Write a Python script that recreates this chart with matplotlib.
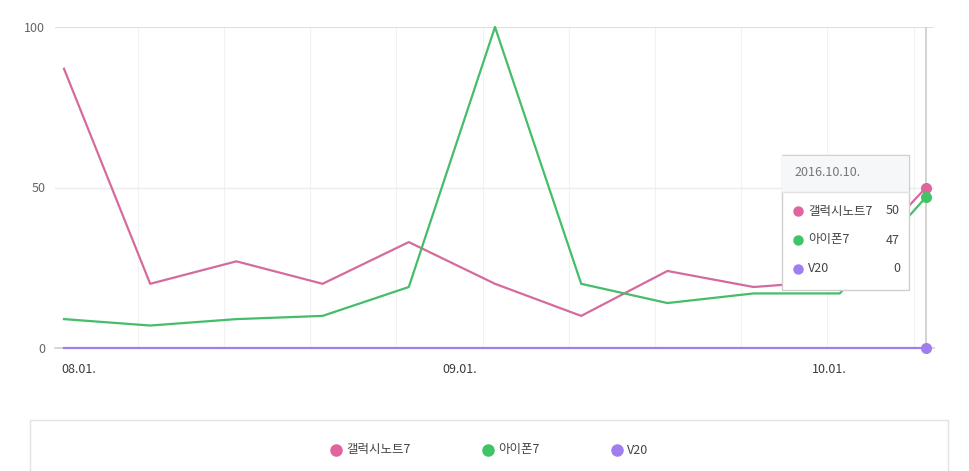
import matplotlib
matplotlib.use("Agg")
import matplotlib.pyplot as plt
import matplotlib.dates as mdates
import matplotlib.transforms as mtrans
from matplotlib.patches import Rectangle
import datetime as dt

plt.rcParams['font.family'] = ['Noto Sans CJK KR', 'DejaVu Sans']

# weekly search index, 2016.08.01 ~ 2016.10.10
dates = [dt.date(2016, 8, 1) + dt.timedelta(weeks=i) for i in range(11)]
names = ["갤럭시노트7", "아이폰7", "V20"]
note7 = [87, 20, 27, 20, 33, 20, 10, 24, 19, 21, 50]
iphone7 = [9, 7, 9, 10, 19, 100, 20, 14, 17, 17, 47]
v20 = [0, 0, 0, 0, 0, 0, 0, 0, 0, 0, 0]
series = [note7, iphone7, v20]
colors = ["#e0649d", "#3fc466", "#a07ef0"]
line_colors = ["#d46b9f", "#45bd69", "#9d80e8"]
yticks = [0, 50, 100]
xticks = [dt.date(2016, 8, 1), dt.date(2016, 9, 1), dt.date(2016, 10, 1)]

W, H = 970, 471
fig = plt.figure(figsize=(W / 100, H / 100), dpi=100)
ax = fig.add_axes([55 / W, 1 - 348 / H, (934 - 55) / W, (348 - 27) / H])

x = mdates.date2num(dates)
ax.set_xlim(x[0] - 0.73, x[-1] + 0.65)
ax.set_ylim(0, 100)

# faint weekly grid (sundays)
for d in x[:-1] + 6:
    ax.axvline(d, color="#f2f2f2", lw=0.8, zorder=0)
ax.axhline(100, color="#d9d9d9", lw=1.2, zorder=1)
ax.axhline(50, color="#ececec", lw=1, zorder=1)
ax.axhline(0, color="#d0d0d0", lw=1.2, zorder=1, clip_on=False)

for vals, lc in zip(series, line_colors):
    ax.plot(x, vals, color=lc, lw=1.6, zorder=3, clip_on=False)

# hover line + markers at last point
ax.axvline(x[-1], color="#cfcfcf", lw=1.3, zorder=2)
for vals, c in zip(series, colors):
    ax.plot(x[-1], vals[-1], "o", color=c, ms=7, zorder=5, clip_on=False)

for s in ax.spines.values():
    s.set_visible(False)
ax.set_yticks(yticks)
ax.set_yticklabels([str(t) for t in yticks], fontsize=9, color="#666666")
ax.tick_params(axis="y", length=0, pad=7)
ax.set_xticks(mdates.date2num(xticks))
ax.set_xticklabels([d.strftime("%m.%d.") for d in xticks], fontsize=9,
                   color="#3a3a3a", ha="left")
ax.tick_params(axis="x", length=0, pad=11)
shift = mtrans.ScaledTranslation(-3 / 100, 0, fig.dpi_scale_trans)
for lbl in ax.get_xticklabels():
    lbl.set_transform(lbl.get_transform() + shift)

# overlay in pixel coordinates for tooltip and legend box
ov = fig.add_axes([0, 0, 1, 1], zorder=10)
ov.set_xlim(0, W)
ov.set_ylim(H, 0)
ov.axis("off")

# tooltip
ov.add_patch(Rectangle((782, 155), 127, 135, facecolor="white", edgecolor="#cfcfcf", lw=1))
ov.add_patch(Rectangle((782.5, 155.5), 126, 37, facecolor="#f6f7f9", edgecolor="none"))
ov.plot([782, 909], [192, 192], color="#e2e2e2", lw=1)
ov.text(794, 173, dates[-1].strftime("%Y.%m.%d."), fontsize=9, color="#777777", va="center")
for i, (n, vals, c) in enumerate(zip(names, series, colors)):
    yy = 211 + i * 29
    ov.plot(798, yy, "o", color=c, ms=6.5)
    ov.text(808, yy, n, fontsize=9, color="#444444", va="center")
    ov.text(900, yy, str(vals[-1]), fontsize=9, color="#444444", va="center", ha="right")

# legend box
ov.add_patch(Rectangle((30, 420), 918, 80, facecolor="white", edgecolor="#e3e3e3", lw=1, clip_on=False))
leg_x = [336, 488, 617]
for lx, n, c in zip(leg_x, names, colors):
    ov.plot(lx, 450, "o", color=c, ms=8)
    ov.text(lx + 10, 450, n, fontsize=9, color="#444444", va="center")

fig.savefig("out.png", dpi=100)
